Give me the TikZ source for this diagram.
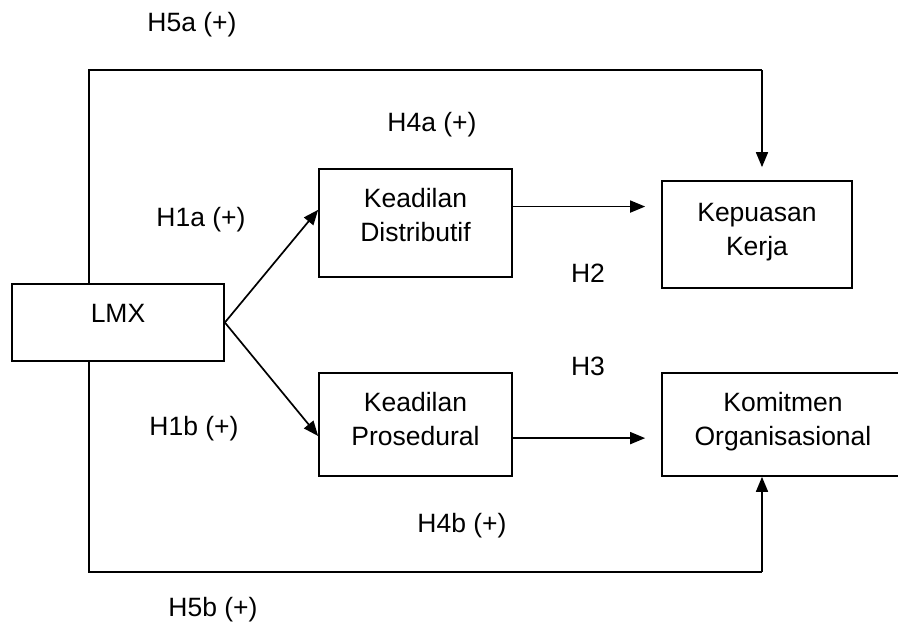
\documentclass[tikz,border=0pt]{standalone}
\usepackage{fontspec}
\setmainfont{Liberation Sans}
\usetikzlibrary{arrows.meta,calc}
\tikzset{
  boxnode/.style={draw, line width=1.7pt, inner sep=0pt},
  txt/.style={align=center, inner sep=0pt},
  lbl/.style={inner sep=0pt},
  conn/.style={line width=1.7pt},
  arr/.style={line width=1.7pt, -{Triangle[length=15pt,width=12pt]}},
}
\begin{document}
\begin{tikzpicture}[x=1pt,y=-1pt,font=\fontsize{26.5}{34}\selectfont]
\useasboundingbox (0,0) rectangle (898,635);
\node[boxnode, minimum width=212pt, minimum height=77pt] (lmx) at (118,322.5) {};
\node[boxnode, minimum width=193pt, minimum height=108pt] (dis) at (415.5,223) {};
\node[boxnode, minimum width=193pt, minimum height=103pt] (pro) at (415.5,424.5) {};
\node[boxnode, minimum width=190pt, minimum height=107pt] (kep) at (757,234.5) {};
\node[boxnode, minimum width=260pt, minimum height=103pt] (kom) at (792,424.5) {};

\node[txt] (lmxt) at (118,313) {LMX};
\node[txt] (dist) at (415.5,215.5) {Keadilan\\Distributif};
\node[txt] (prot) at (415.5,419) {Keadilan\\Prosedural};
\node[txt] (kept) at (757,232) {Kepuasan\\Kerja};
\node[txt] (komt) at (783,422) {Komitmen\\Organisasional};

\node[lbl] (h5a) at (192,25) {H5a (+)};
\node[lbl] (h4a) at (432,125) {H4a (+)};
\node[lbl] (h1a) at (201,220) {H1a (+)};
\node[lbl] (h2) at (588,273) {H2};
\node[lbl] (h3) at (588,366) {H3};
\node[lbl] (h1b) at (194,429) {H1b (+)};
\node[lbl] (h4b) at (462,526) {H4b (+)};
\node[lbl] (h5b) at (213,610) {H5b (+)};

\coordinate (tl) at (89,70);
\coordinate (tr) at (762,70);
\coordinate (bl) at (89,572);
\coordinate (br) at (762,572);
\coordinate (dout) at ($(dis.north east)!0.35!(dis.south east)$);
\coordinate (pout) at ($(pro.north east)!0.63!(pro.south east)$);
\coordinate (din) at ($(dis.north west)!0.38!(dis.south west)$);
\coordinate (pin) at ($(pro.north west)!0.61!(pro.south west)$);

\draw[conn] (lmx.north -| tl) -- (tl) -- (tr);
\draw[arr, shorten >=13pt] (tr) -- (tr |- kep.north);
\draw[conn] (lmx.south -| bl) -- (bl) -- (br);
\draw[arr] (br) -- (br |- kom.south);
\draw[arr] (lmx.east) -- (din);
\draw[arr] (lmx.east) -- (pin);
\draw[arr, shorten >=16pt] (dout) -- (dout -| kep.west);
\draw[arr, shorten >=16pt] (pout) -- (pout -| kom.west);
\end{tikzpicture}
\end{document}
